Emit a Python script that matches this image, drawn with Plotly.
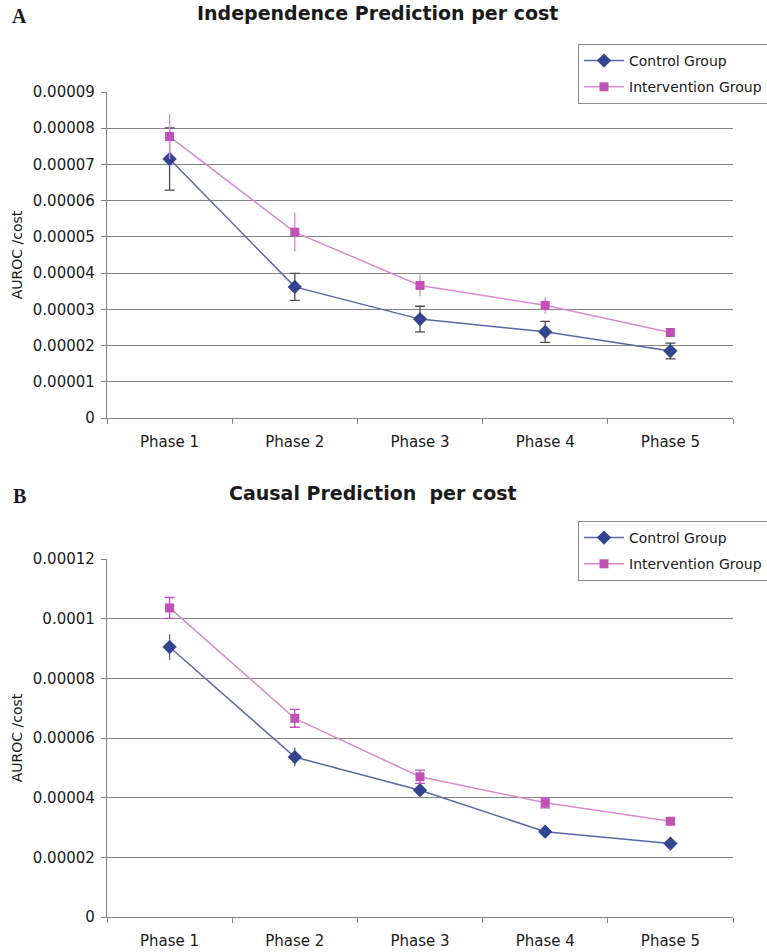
import plotly.graph_objects as go
from plotly.subplots import make_subplots

# ---- data -------------------------------------------------------------
phases = ["Phase 1", "Phase 2", "Phase 3", "Phase 4", "Phase 5"]
group_names = ["Control Group", "Intervention Group"]

# Panel A: Independence Prediction per cost (AUROC / cost)
indep_control = [7.15e-5, 3.62e-5, 2.73e-5, 2.38e-5, 1.85e-5]
indep_control_err = [0.86e-5, 0.37e-5, 0.355e-5, 0.29e-5, 0.215e-5]
indep_interv = [7.77e-5, 5.13e-5, 3.66e-5, 3.11e-5, 2.36e-5]
indep_interv_err = [0.62e-5, 0.53e-5, 0.30e-5, 0.23e-5, 0.10e-5]

# Panel B: Causal Prediction per cost (AUROC / cost)
causal_control = [9.05e-5, 5.36e-5, 4.25e-5, 2.86e-5, 2.46e-5]
causal_control_err = [0.43e-5, 0.31e-5, 0.12e-5, 0.08e-5, 0.06e-5]
causal_interv = [10.36e-5, 6.66e-5, 4.70e-5, 3.83e-5, 3.21e-5]
causal_interv_err = [0.35e-5, 0.30e-5, 0.22e-5, 0.17e-5, 0.10e-5]

# axis ticks
indep_ticks = [0, 1e-5, 2e-5, 3e-5, 4e-5, 5e-5, 6e-5, 7e-5, 8e-5, 9e-5]
indep_ticktext = ["0", "0.00001", "0.00002", "0.00003", "0.00004",
                  "0.00005", "0.00006", "0.00007", "0.00008", "0.00009"]
causal_ticks = [0, 2e-5, 4e-5, 6e-5, 8e-5, 10e-5, 12e-5]
causal_ticktext = ["0", "0.00002", "0.00004", "0.00006", "0.00008",
                   "0.0001", "0.00012"]

titles = ["Independence Prediction per cost", "Causal Prediction\u00a0 per cost"]
panel_letters = ["A", "B"]
y_title = "AUROC /cost"

# ---- styling ----------------------------------------------------------
W, H = 767, 952
FONT = "DejaVu Sans"
TXT = "#1a1a1a"
GRID = "#838383"
CTRL_MARK, CTRL_LINE = "#34458f", "#5b66a6"
INT_MARK, INT_LINE = "#c052b5", "#d98ad0"

# plot-area geometry (pixels)
L, R, T, B = 107, 733, 92, 917


def py(v):
    """pixel row -> paper y"""
    return (B - v) / (B - T)


def px(v):
    """pixel column -> paper x"""
    return (v - L) / (R - L)


fig = make_subplots(rows=2, cols=1)

panels = [
    (indep_control, indep_control_err, indep_interv, indep_interv_err,
     "legend", "#4a4a4a", 5, INT_LINE, 0),
    (causal_control, causal_control_err, causal_interv, causal_interv_err,
     "legend2", CTRL_LINE, 0, INT_MARK, 5),
]

for i, (c, ce, iv, ie, leg, c_err_col, c_cap, i_err_col, i_cap) in enumerate(panels):
    row = i + 1
    fig.add_trace(go.Scatter(
        x=phases, y=c, name=group_names[0], mode="lines+markers",
        legend=leg, legendgroup="c",
        line=dict(color=CTRL_LINE, width=1.5),
        marker=dict(symbol="diamond", size=11, color=CTRL_MARK),
        error_y=dict(type="data", array=ce, visible=True,
                     color=c_err_col, thickness=1.3, width=c_cap),
    ), row=row, col=1)
    fig.add_trace(go.Scatter(
        x=phases, y=iv, name=group_names[1], mode="lines+markers",
        legend=leg, legendgroup="i",
        line=dict(color=INT_LINE, width=1.5),
        marker=dict(symbol="square", size=9, color=INT_MARK),
        error_y=dict(type="data", array=ie, visible=True,
                     color=i_err_col, thickness=1.3, width=i_cap),
    ), row=row, col=1)

# vertical placement of each panel's plot area
top_dom = [py(418), 1.0]
bot_dom = [0.0, py(559)]

axis_common = dict(showline=True, linecolor=GRID, linewidth=1.3,
                   ticks="outside", ticklen=5, tickcolor=GRID, tickwidth=1.3,
                   tickfont=dict(family=FONT, size=15, color=TXT),
                   automargin=False)

for row, dom, ticks, ttext in [(1, top_dom, indep_ticks, indep_ticktext),
                               (2, bot_dom, causal_ticks, causal_ticktext)]:
    fig.update_xaxes(type="category", range=[-0.5, 4.5], tickson="boundaries",
                     showgrid=False, zeroline=False, ticklabelstandoff=10,
                     row=row, col=1, **axis_common)
    fig.update_yaxes(domain=dom, range=[0, ticks[-1]], tickvals=ticks,
                     ticktext=ttext, showgrid=True, gridcolor=GRID, gridwidth=1.3,
                     zeroline=False, ticklabelstandoff=3,
                     title=dict(text=y_title, standoff=6,
                                font=dict(family=FONT, size=14, color=TXT)),
                     row=row, col=1, **axis_common)

annotations = [
    dict(text=titles[0], x=px(377), y=py(13), xref="paper", yref="paper",
         showarrow=False, xanchor="center", yanchor="middle",
         font=dict(family=FONT, size=19, color=TXT, weight="bold")),
    dict(text=titles[1], x=px(373), y=py(493), xref="paper", yref="paper",
         showarrow=False, xanchor="center", yanchor="middle",
         font=dict(family=FONT, size=19, color=TXT, weight="bold")),
    dict(text=panel_letters[0], x=px(19), y=py(16), xref="paper", yref="paper",
         showarrow=False, xanchor="center", yanchor="middle",
         font=dict(family="Liberation Serif", size=20, color=TXT, weight="bold")),
    dict(text=panel_letters[1], x=px(19), y=py(496), xref="paper", yref="paper",
         showarrow=False, xanchor="center", yanchor="middle",
         font=dict(family="Liberation Serif", size=20, color=TXT, weight="bold")),
]

legend_common = dict(x=px(578), xanchor="left", yanchor="top",
                     bgcolor="white", bordercolor="#8a8a8a", borderwidth=1,
                     font=dict(family=FONT, size=14, color=TXT),
                     itemwidth=40, tracegroupgap=5, traceorder="grouped")

fig.update_layout(
    width=W, height=H,
    margin=dict(l=L, r=W - R, t=T, b=H - B, autoexpand=False),
    paper_bgcolor="white", plot_bgcolor="white",
    annotations=annotations,
    legend=dict(y=py(44), **legend_common),
    legend2=dict(y=py(521), **legend_common),
    showlegend=True,
)

fig.write_html("out.html")
